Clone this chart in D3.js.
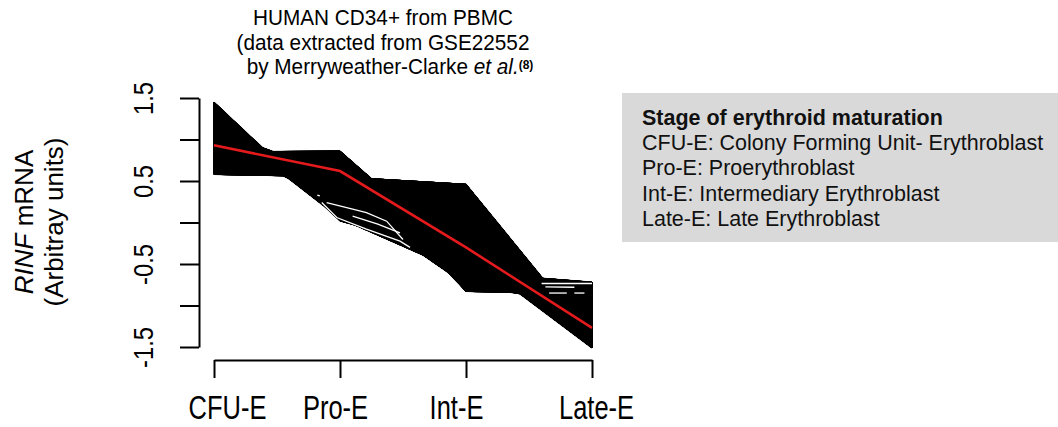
<!DOCTYPE html>
<html>
<head>
<meta charset="utf-8">
<script src="https://cdn.jsdelivr.net/npm/d3@7"></script>
<style>
  body { margin: 0; background: #fff; }
  svg { display: block; font-family: "Liberation Sans", Arial, sans-serif; }
</style>
</head>
<body>
<div id="chart"></div>
<script>
// Stages of maturation (x axis)
const stages = ['CFU-E', 'Pro-E', 'Int-E', 'Late-E']

// y axis ticks, only some of them carry a label
const yTicks = [-1.5, -1, -0.5, 0, 0.5, 1, 1.5]
const yTickLabels = [-1.5, -0.5, 0.5, 1.5]

// Profiles of the genes in the cluster, one value per stage
const geneProfiles = [
    [1.45, 0.02, -0.40, -0.95],
    [1.12, 0.55, 0.20, -1.30],
    [0.85, 0.86, -0.47, -0.90],
    [0.58, 0.55, 0.46, -1.40],
    [1.23, 0.05, -0.62, -0.85],
    [0.90, 0.80, -0.83, -0.86],
    [0.90, 0.30, -0.37, -1.51],
    [1.00, 0.40, -0.60, -0.72],
    [1.10, 0.15, -0.65, -0.78],
    [1.30, 0.20, 0.10, -1.25],
    [0.65, 0.70, -0.05, -1.45],
    [1.20, 0.10, -0.50, -1.30],
    [1.05, 0.30, -0.75, -1.00],
    [0.98, 0.22, -0.52, -1.00]
]

// RINF profile (red)
const rinfProfile = [0.93, 0.62, -0.30, -1.27]

// Gaps left between the lines, as [stage index, value] pairs
const gapTraces = [
    [[0.855, 0.24], [0.974, 0.06], [1.21, -0.08], [1.476, -0.225], [1.556, -0.30]],
    [[0.894, 0.24], [1.053, 0.18], [1.21, 0.12], [1.37, 0.016], [1.50, -0.205]],
    [[1.10, 0.076], [1.30, -0.02], [1.476, -0.124]],
    [[0.82, 0.33], [0.84, 0.32]],
    [[2.60, -0.735], [3.0, -0.735]],
    [[2.63, -0.775], [2.86, -0.78]],
    [[2.66, -0.85], [2.80, -0.85]],
    [[2.86, -0.85], [2.94, -0.85]]
]

const titleLines = ['HUMAN CD34+ from PBMC', '(data extracted from GSE22552']
const legendTitle = 'Stage of erythroid maturation'
const legendItems = [
    'CFU-E: Colony Forming Unit- Erythroblast',
    'Pro-E: Proerythroblast',
    'Int-E: Intermediary Erythroblast',
    'Late-E: Late Erythroblast'
]

// Set bounds
let svgWidth = 1058, svgHeight = 427

let svg = d3.select('#chart')
    .append('svg')
    .attr('width', svgWidth)
    .attr('height', svgHeight)

let x = d3.scalePoint().domain(stages).range([214, 592])
let xi = d3.scaleLinear().domain([0, stages.length - 1]).range(x.range())
let y = d3.scaleLinear().domain([-1.5, 1.5]).range([347, 98])

// Band of gene lines: fill between every pair of lines in each segment
let band = svg.append('g')
let poly = d3.line().x(d => xi(d[0])).y(d => y(d[1]))
for (let s = 0; s < stages.length - 1; s++) {
    for (let i = 0; i < geneProfiles.length; i++) {
        for (let j = i + 1; j < geneProfiles.length; j++) {
            let p = geneProfiles[i], q = geneProfiles[j]
            band.append('path')
                .attr('d', poly([[s, p[s]], [s + 1, p[s + 1]], [s + 1, q[s + 1]], [s, q[s]]]) + 'Z')
                .attr('fill', '#000')
                .attr('stroke', '#000')
                .attr('stroke-width', 0.6)
        }
    }
}

let profileLine = d3.line()
    .x((d, i) => x(stages[i]))
    .y(d => y(d))

band.selectAll('.gene')
    .data(geneProfiles)
    .join('path')
    .attr('class', 'gene')
    .attr('d', profileLine)
    .attr('fill', 'none')
    .attr('stroke', '#000')
    .attr('stroke-width', 1.4)

// white gaps between the lines
svg.append('g').selectAll('path')
    .data(gapTraces)
    .join('path')
    .attr('d', poly)
    .attr('fill', 'none')
    .attr('stroke', '#fff')
    .attr('stroke-width', 1.3)

// RINF line
svg.append('path')
    .datum(rinfProfile)
    .attr('d', profileLine)
    .attr('fill', 'none')
    .attr('stroke', '#e41a1c')
    .attr('stroke-width', 2.6)

// X axis
let xAxis = svg.append('g')
    .attr('transform', 'translate(0,360)')
    .call(d3.axisBottom(x).tickSize(18).tickSizeOuter(0))
xAxis.select('.domain').attr('stroke-width', 2)
xAxis.selectAll('line').attr('stroke-width', 2)
let labelNudge = [13, -5, -10, 4]
xAxis.selectAll('text')
    .attr('fill', '#000')
    .attr('font-size', 25.5)
    .attr('dy', null)
    .attr('dx', (d, i) => labelNudge[i])
    .attr('y', 59 / 1.3)
    .attr('transform', 'scale(1,1.3)')

// Y axis
let yAxis = svg.append('g')
    .attr('transform', 'translate(199,0)')
    .call(d3.axisLeft(y)
        .tickValues(yTicks)
        .tickSize(19)
        .tickSizeOuter(0)
        .tickFormat(d => yTickLabels.includes(d) ? String(d) : ''))
yAxis.select('.domain').attr('stroke-width', 2)
yAxis.selectAll('line').attr('stroke-width', 2)
yAxis.selectAll('text')
    .attr('fill', '#000')
    .attr('font-size', 27)
    .attr('x', 0)
    .attr('dy', null)
    .attr('text-anchor', 'middle')
    .attr('transform', 'translate(-46,0) rotate(-90) scale(0.88,1)')

// Y axis title
let yTitle = svg.append('g').attr('font-size', 26).attr('text-anchor', 'middle')
let yt1 = yTitle.append('text').attr('transform', 'translate(33,222) rotate(-90)')
yt1.append('tspan').attr('font-style', 'italic').text('RINF')
yt1.append('tspan').text(' mRNA')
yTitle.append('text')
    .attr('transform', 'translate(63,222) rotate(-90)')
    .text('(Arbitray units)')

// Title
let title = svg.append('g').attr('font-size', 20.75).attr('text-anchor', 'middle')
titleLines.forEach((t, i) => {
    title.append('text')
        .attr('transform', 'translate(383,' + (25 + i * 24.5) + ') scale(1,1.05)')
        .text(t)
})
let t3 = title.append('text').attr('transform', 'translate(390,74) scale(1,1.05)')
t3.append('tspan').text('by Merryweather-Clarke ')
t3.append('tspan').attr('font-style', 'italic').text('et al.')
t3.append('tspan').attr('font-weight', 'bold').attr('font-size', 12).attr('dy', -5).text('(8)')

// Legend box
let legend = svg.append('g')
legend.append('rect')
    .attr('x', 622).attr('y', 93)
    .attr('width', 436).attr('height', 149)
    .attr('fill', '#d9d9d9')
legend.append('text')
    .attr('transform', 'translate(642,125) scale(1,1.05)')
    .attr('font-size', 21.5)
    .attr('font-weight', 'bold')
    .attr('fill', '#111')
    .text(legendTitle)
legend.selectAll('.item')
    .data(legendItems)
    .join('text')
    .attr('class', 'item')
    .attr('transform', (d, i) => 'translate(642,' + (150 + i * 25.3) + ') scale(1,1.05)')
    .attr('font-size', 21.5)
    .attr('fill', '#111')
    .text(d => d)
</script>
</body>
</html>
